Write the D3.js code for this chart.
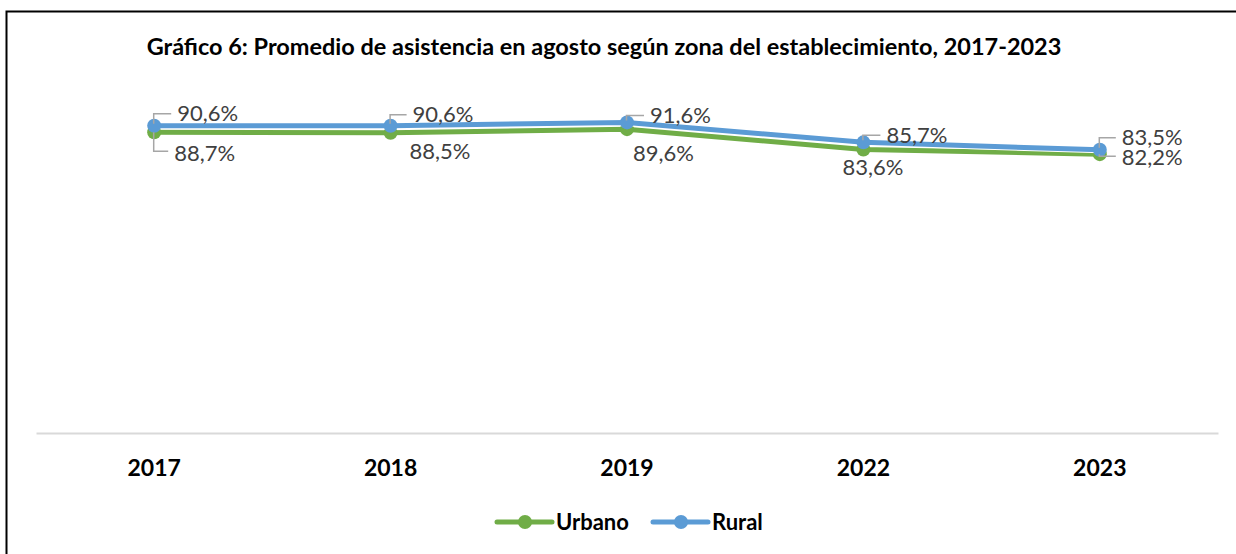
<!DOCTYPE html>
<html>
<head>
<meta charset="utf-8">
<script src="https://cdn.jsdelivr.net/npm/d3@7"></script>
<style>
  body { margin: 0; background: #fff; }
  svg { display: block; font-family: Lato, "Open Sans", sans-serif; }
</style>
</head>
<body>
<div id="chart"></div>
<script>
// data
var years = ["2017", "2018", "2019", "2022", "2023"];
var urbano = [88.7, 88.5, 89.6, 83.6, 82.2];
var rural = [90.6, 90.6, 91.6, 85.7, 83.5];
var seriesNames = ["Urbano", "Rural"];
var title = "Gráfico 6: Promedio de asistencia en agosto según zona del establecimiento, 2017-2023";

var W = 1236, H = 554;
var colors = { Urbano: "#70ad47", Rural: "#5b9bd5" };

var svg = d3.select("#chart").append("svg")
  .attr("width", W)
  .attr("height", H);

// chart frame
svg.append("rect")
  .attr("x", 6.5).attr("y", 11.5)
  .attr("width", W).attr("height", H)
  .attr("fill", "none")
  .attr("stroke", "#000")
  .attr("stroke-width", 2);

var titleText = svg.append("text")
  .attr("x", 604).attr("y", 47)
  .attr("dy", "0.35em")
  .attr("text-anchor", "middle")
  .attr("font-weight", "bold")
  .attr("font-size", 18)
  .attr("fill", "#000")
  .text(title);
// fit title to the width it has in the original (~915px)
var tw = titleText.node().getComputedTextLength();
titleText.attr("font-size", 18 * 915 / tw);

var x = d3.scaleBand()
  .domain(years)
  .range([36, 1218]);

var y = d3.scaleLinear()
  .domain([0, 100])
  .range([432, 94]);

// axis baseline + year labels
var xAxis = svg.append("g")
  .attr("transform", "translate(0,433)")
  .call(d3.axisBottom(x).tickSize(0).tickPadding(27));
xAxis.select(".domain").attr("stroke", "#d9d9d9").attr("stroke-width", 2);
xAxis.selectAll("text")
  .attr("font-family", "Lato, sans-serif")
  .attr("font-size", 23)
  .attr("font-weight", "bold")
  .attr("fill", "#000");

var line = d3.line()
  .x(function (d, i) { return x(years[i]) + x.bandwidth() / 2; })
  .y(function (d) { return y(d); });

var series = [
  { name: "Urbano", values: urbano },
  { name: "Rural", values: rural }
];

series.forEach(function (s) {
  var g = svg.append("g");
  g.append("path")
    .datum(s.values)
    .attr("d", line)
    .attr("fill", "none")
    .attr("stroke", "#fff")
    .attr("stroke-width", 7)
    .attr("stroke-linejoin", "round");
  g.append("path")
    .datum(s.values)
    .attr("d", line)
    .attr("fill", "none")
    .attr("stroke", colors[s.name])
    .attr("stroke-width", 5)
    .attr("stroke-linejoin", "round");
  g.selectAll("circle")
    .data(s.values)
    .enter().append("circle")
    .attr("cx", function (d, i) { return x(years[i]) + x.bandwidth() / 2; })
    .attr("cy", function (d) { return y(d); })
    .attr("r", 7)
    .attr("fill", colors[s.name]);
});

// data labels (Excel-like placement, some with leader lines)
var fmt = function (v) { return v.toFixed(1).replace(".", ",") + "%"; };
// label offsets relative to the point: [dx, dy of text center, leader?]
var ruralOff = [[23, -12, true], [22, -11, true], [23, -7, true], [23, -7, true], [22, -12, true]];
var urbanoOff = [[20, 21, true], [19, 18, false], [6, 24, false], [-21, 18, false], [22, 3, true]];

function drawLabels(values, off, below) {
  var g = svg.append("g");
  values.forEach(function (v, i) {
    var cx = x(years[i]) + x.bandwidth() / 2, cy = y(v);
    var o = off[i];
    var tx = cx + o[0], ty = cy + o[1];
    g.append("text")
      .attr("x", tx).attr("y", ty)
      .attr("dy", "0.35em")
      .attr("font-size", 22)
      .attr("fill", "#404040")
      .text(fmt(v));
    if (o[2]) {
      var ly = below ? Math.max(cy + 2, Math.min(ty - 2, cy + 22)) : ty;
      g.append("path")
        .attr("d", "M" + (cx - 0.5) + "," + (below ? cy : cy - 2) +
                   "V" + ly + "H" + (tx - 6))
        .attr("fill", "none")
        .attr("stroke", "#a6a6a6")
        .attr("stroke-width", 1.5);
    }
  });
}
drawLabels(rural, ruralOff, false);
drawLabels(urbano, urbanoOff, true);

// legend
var legend = svg.append("g").attr("transform", "translate(0,522)");
var legendPos = [497, 653];
seriesNames.forEach(function (n, i) {
  var lx = legendPos[i];
  legend.append("line")
    .attr("x1", lx).attr("x2", lx + 55)
    .attr("stroke", colors[n])
    .attr("stroke-width", 5)
    .attr("stroke-linecap", "round");
  legend.append("circle")
    .attr("cx", lx + 28).attr("r", 7)
    .attr("fill", colors[n]);
  legend.append("text")
    .attr("x", lx + 59)
    .attr("dy", "0.35em")
    .attr("font-size", 22)
    .attr("font-weight", "bold")
    .attr("fill", "#000")
    .text(n);
});
</script>
</body>
</html>
